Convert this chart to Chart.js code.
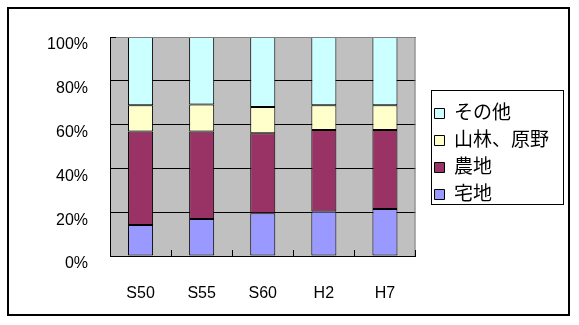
<!DOCTYPE html>
<html><head><meta charset="utf-8">
<script src="https://cdn.jsdelivr.net/npm/chart.js@4/dist/chart.umd.min.js"></script>
<style>html,body{margin:0;padding:0;background:#fff}#wrap{width:579px;height:325px}</style>
</head><body><div id="wrap"><canvas id="c" width="579" height="325"></canvas></div>
<script>
const categories = ['S50', 'S55', 'S60', 'H2', 'H7'];
const residential = [14.2, 16.9, 19.5, 20.3, 21.5];   // 宅地
const farmland    = [42.7, 40.0, 36.6, 37.2, 36.0];   // 農地
const forest      = [11.9, 12.3, 11.9, 11.3, 11.3];   // 山林、原野
const other       = [31.2, 30.8, 32.0, 31.2, 31.2];   // その他
const seriesNames = ['宅地', '農地', '山林、原野', 'その他'];
const yTickValues = [0, 20, 40, 60, 80, 100];

const FONT = "'Liberation Sans', 'Noto Sans CJK JP', sans-serif";

const decor = {
  id: 'decor',
  afterLayout(chart) {
    // nudge the legend box: small gap from the plot, slightly raised
    const lg = chart.legend;
    lg.left += 11; lg.right += 11;
    lg.top -= 17; lg.bottom -= 17;
  },
  beforeDraw(chart) {
    const {ctx, chartArea: a} = chart;
    ctx.save();
    ctx.fillStyle = '#C0C0C0';
    ctx.fillRect(a.left, a.top, a.right - a.left, a.bottom - a.top);
    ctx.restore();
  },
  afterDatasetsDraw(chart) {
    const {ctx, chartArea: a, scales} = chart;
    ctx.save();
    ctx.strokeStyle = '#808080';
    ctx.lineWidth = 1;
    ctx.beginPath();
    ctx.moveTo(a.left, a.top + 0.5); ctx.lineTo(a.right - 0.5, a.top + 0.5); ctx.lineTo(a.right - 0.5, a.bottom);
    ctx.stroke();
    // category boundary tick marks (inside the plot)
    ctx.strokeStyle = '#000';
    const x = scales.x;
    const step = x.getPixelForValue(1) - x.getPixelForValue(0);
    for (let i = 0; i < categories.length; i++) {
      const px = Math.round(x.getPixelForValue(i) + step / 2) + 0.5;
      ctx.beginPath(); ctx.moveTo(px, a.bottom - 6); ctx.lineTo(px, a.bottom); ctx.stroke();
    }
    ctx.beginPath(); ctx.moveTo(a.left, a.top + 0.5); ctx.lineTo(a.left + 6, a.top + 0.5); ctx.stroke();
    ctx.restore();
  },
  afterDraw(chart) {
    const {ctx} = chart;
    const hb = chart.legend.legendHitBoxes;
    ctx.save();
    ctx.strokeStyle = '#000';
    ctx.lineWidth = 1;
    if (hb && hb.length) {
      const first = hb[0], last = hb[hb.length - 1];
      const left = Math.round(first.left - 3);
      const top = Math.round(first.top + first.height / 2 - 24);
      const bottom = Math.round(last.top + last.height / 2 + 9);
      ctx.strokeRect(left + 0.5, top + 0.5, 132, bottom - top);
    }
    ctx.lineWidth = 2;
    ctx.strokeRect(8, 8, 561, 307);
    ctx.restore();
  }
};

new Chart(document.getElementById('c'), {
  type: 'bar',
  data: {
    labels: categories,
    datasets: [
      {label: seriesNames[0], data: residential, backgroundColor: '#9999FF'},
      {label: seriesNames[1], data: farmland, backgroundColor: '#993366'},
      {label: seriesNames[2], data: forest, backgroundColor: '#FFFFCC'},
      {label: seriesNames[3], data: other, backgroundColor: '#CCFFFF'}
    ].map(d => Object.assign(d, {borderColor: '#000', borderWidth: 1, borderSkipped: false,
      categoryPercentage: 1, barPercentage: 0.41}))
  },
  options: {
    responsive: false,
    animation: false,
    layout: {padding: {top: 37, left: 0, bottom: 20, right: 31}},
    plugins: {
      tooltip: {enabled: false},
      legend: {
        position: 'right',
        reverse: true,
        labels: {boxWidth: 10, boxHeight: 10, padding: 8, color: '#000',
          font: {family: FONT, size: 19}}
      }
    },
    scales: {
      x: {
        stacked: true,
        afterFit(s) { s.height = 49; },
        grid: {display: false, drawTicks: false},
        border: {color: '#000', width: 1},
        ticks: {color: '#000', font: {family: FONT, size: 16}, padding: 28}
      },
      y: {
        stacked: true, min: 0, max: 100,
        afterFit(s) { s.width = 110; },
        afterBuildTicks(s) { s.ticks = yTickValues.map(v => ({value: v})); },
        grid: {color: '#000', drawTicks: false},
        border: {color: '#000', width: 1},
        ticks: {color: '#000', font: {family: FONT, size: 16}, padding: 22, labelOffset: 8,
          callback: v => v + '%'}
      }
    }
  },
  plugins: [decor]
});
</script></body></html>
